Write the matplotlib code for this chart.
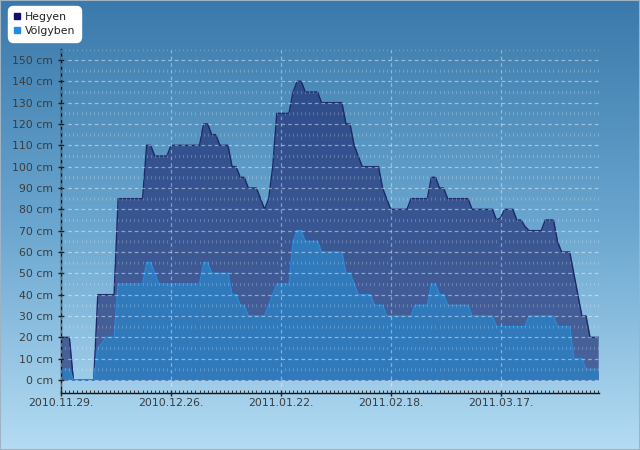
import matplotlib
matplotlib.use("Agg")
import matplotlib.pyplot as plt
import numpy as np
from matplotlib.lines import Line2D
from matplotlib.patches import Rectangle
from matplotlib.ticker import MultipleLocator
from matplotlib.colors import LinearSegmentedColormap

# ---------------- data ----------------
series_names = ["Hegyen", "Völgyben"]
tick_labels = ["2010.11.29.", "2010.12.26.", "2011.01.22.", "2011.02.18.", "2011.03.17."]
tick_days = [0, 27, 54, 81, 108]
y_ticks = list(range(0, 151, 10))
y_labels = [f"{v} cm" for v in y_ticks]

hegyen = ([20] * 3 + [0] * 6 + [40] * 5 + [85] * 7 + [110] * 2 + [105] * 4 + [110] * 8 +
          [120] * 2 + [115] * 2 + [110] * 3 + [100] * 2 + [95] * 2 + [90] * 3 + [85, 80, 85, 100] +
          [125] * 4 + [135] + [140] * 2 + [135] * 4 + [130] * 6 + [120] * 2 + [110, 105] +
          [100] * 5 + [90, 85] + [80] * 5 + [85] * 5 + [95] * 2 + [90] * 2 + [85] * 6 + [80] * 6 +
          [75, 76] + [80] * 3 + [75] * 2 + [72] + [70] * 4 + [75] * 3 + [65] + [60] * 3 +
          [50, 40] + [30] * 2 + [20] * 3)
volgyben = ([5] * 3 + [0] * 6 + [15, 17] + [20] * 3 + [45] * 7 + [55] * 2 + [50] + [45] * 11 +
            [55] * 2 + [50] * 5 + [40] * 2 + [35] * 2 + [30] * 5 + [35, 40] + [45] * 4 + [65] +
            [70] * 2 + [65] * 4 + [60] * 6 + [50] * 2 + [45] + [40] * 4 + [35] * 3 + [30] * 7 +
            [35] * 4 + [45] * 2 + [40] * 2 + [35] * 6 + [30] * 6 + [25] * 8 + [30] * 7 + [25] * 4 +
            [10] * 3 + [5] * 4)
days = np.arange(len(hegyen))

# ---------------- style ----------------
plt.rcParams["font.family"] = ["DejaVu Sans"]
plt.rcParams["lines.scale_dashes"] = False

W, H = 640, 450
fig = plt.figure(figsize=(6.4, 4.5), dpi=100)

# background gradient
bg = fig.add_axes([0, 0, 1, 1], zorder=-10)
cmap = LinearSegmentedColormap.from_list("bg", ["#3a79ab", "#6aa6cf", "#b4dcf3"])
bg.imshow(np.linspace(0, 1, 256)[:, None], aspect="auto", cmap=cmap,
          extent=[0, 1, 0, 1], origin="upper")
bg.set_axis_off()

ax_left, ax_right, ax_top, ax_bottom = 61, 599, 49.3, 393
ax = fig.add_axes([ax_left / W, 1 - ax_bottom / H, (ax_right - ax_left) / W, (ax_bottom - ax_top) / H])
ax.patch.set_alpha(0)

ax.fill_between(days, hegyen, 0, color=(32 / 255, 45 / 255, 115 / 255), alpha=0.66, lw=0, zorder=1)
ax.plot(days, hegyen, color="#1b2968", lw=1.0, zorder=1.1)
ax.fill_between(days, volgyben, 0, color="#3079ba", lw=0, zorder=1.2)
ax.plot(days, volgyben, color="#2a88d6", lw=1.0, zorder=1.3)

ax.set_xlim(-0.05, 132.2)
ax.set_ylim(-6.1, 155)

ax.set_xticks(tick_days, tick_labels)
ax.set_yticks(y_ticks, y_labels)
ax.xaxis.set_minor_locator(MultipleLocator(1))

ax.set_axisbelow(False)
dash = (0, (2.6, 2.2))
ax.grid(axis="y", which="major", color="white", alpha=0.45, lw=0.9, linestyle=dash)
ax.grid(axis="x", which="major", color="white", alpha=0.40, lw=0.9, linestyle=dash)
ax.grid(axis="x", which="minor", color="white", alpha=0.22, lw=0.8,
        linestyle=(14.73, (2.16, 13.2)))

for s in ["top", "right"]:
    ax.spines[s].set_visible(False)
for s in ["left", "bottom"]:
    ax.spines[s].set_color("#111111")
    ax.spines[s].set_linewidth(1.0)

ax.tick_params(axis="both", which="major", direction="inout", length=5, width=1,
               color="#222222", labelsize=7.8, labelcolor="#3c3c3c")
ax.tick_params(axis="x", which="major", pad=1)
ax.tick_params(axis="y", which="major", pad=3)
ax.tick_params(axis="x", which="minor", direction="in", length=2.5, width=0.7, color="#333333")

# legend
handles = [Line2D([], [], marker="s", ls="", color="#10106a", markersize=4.5),
           Line2D([], [], marker="s", ls="", color="#1e8fdf", markersize=4.5)]
leg = fig.legend(handles, series_names, loc="upper left",
                 bbox_to_anchor=(8 / W, 1 - 6 / H), frameon=True, fancybox=True,
                 facecolor="white", edgecolor="white", framealpha=1, fontsize=7.8,
                 handlelength=0.6, handletextpad=0.4, borderpad=0.55,
                 labelspacing=0.35, borderaxespad=0)
leg.get_frame().set_boxstyle("round,pad=0,rounding_size=0.5")
for t in leg.get_texts():
    t.set_color("#222222")

# border
fig.patches.append(Rectangle((0, 0), 1, 1, transform=fig.transFigure, fill=False,
                             ec="#9fb3c3", lw=1.5))

fig.savefig("out.png", dpi=100)
